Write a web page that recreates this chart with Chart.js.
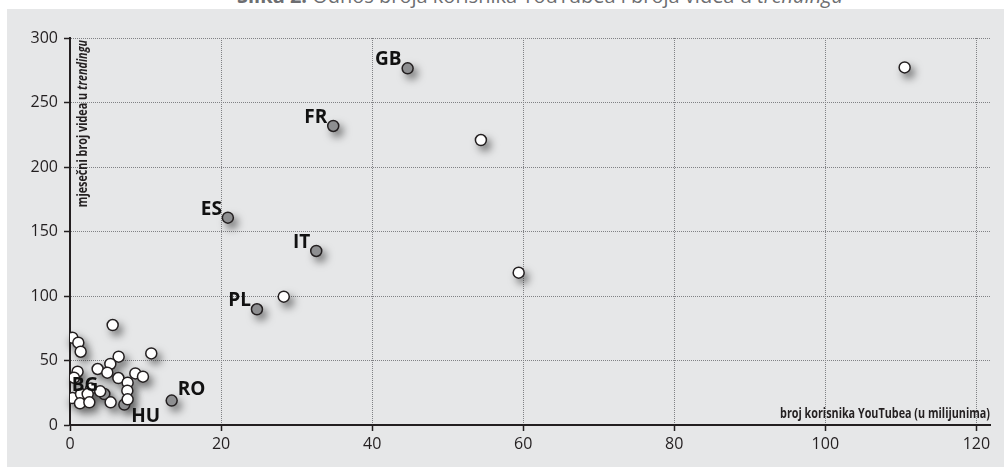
<!DOCTYPE html>
<html>
<head>
<meta charset="utf-8">
<title>Odnos broja korisnika YouTubea i broja videa u trendingu</title>
<script src="https://cdn.jsdelivr.net/npm/chart.js@4.4.1/dist/chart.umd.min.js"></script>
<style>
  html, body { margin: 0; padding: 0; background: #fff; }
  #wrap { position: relative; width: 1005px; height: 470px; overflow: hidden; }
  #panel { position: absolute; left: 7px; top: 9px; right: 1px; bottom: 3px; background: #e6e7e8; }
  #title {
    position: absolute; left: 237px; top: -14px; white-space: nowrap;
    font: 20px/20px "Open Sans", sans-serif; color: #6d6e71;
  }
  #title b { font-weight: 700; }
  canvas { position: absolute; left: 0; top: 0; }
</style>
</head>
<body>
<div id="wrap">
  <div id="panel"></div>
  <div id="title"><b>Slika 2.</b> Odnos broja korisnika YouTubea i broja videa u <i>trendingu</i></div>
  <canvas id="chart" width="1005" height="470"></canvas>
</div>
<script>
// ostale zemlje (bez oznake) - korisnici (mil.) / mjesečni broj videa
const otherX = [5.65, 0.31, 1.1, 1.41, 10.76, 6.44, 5.34, 1.0, 3.66, 4.94, 0.53, 8.65, 9.66,
                6.4, 7.63, 2.78, 7.59, 4.0, 0.31, 1.46, 2.34, 1.32, 2.56, 5.38, 7.63,
                28.3, 54.4, 59.4, 110.5];
const otherY = [77.5, 67.7, 63.8, 56.8, 55.5, 53, 47.3, 41.3, 43.4, 40.6, 36.7, 40, 37.5,
                36.4, 32.8, 28.2, 26.6, 26.1, 20.9, 24, 24, 16.8, 17.6, 17.6, 19.9,
                99.5, 220.9, 118.1, 277.2];

// označene zemlje
const countries = ['GB', 'FR', 'ES', 'IT', 'PL', 'BG', 'RO', 'HU'];
const countryX = [44.7, 34.85, 20.9, 32.6, 24.75, 4.54, 13.46, 7.19];
const countryY = [276.5, 231.8, 160.7, 134.9, 89.7, 24, 18.9, 15.8];
const labelSide = ['nw', 'nw', 'nw', 'nw', 'nw', 'nw', 'ne', 'se'];

const xTicks = [0, 20, 40, 60, 80, 100, 120];
const yTicks = [0, 50, 100, 150, 200, 250, 300];

const xTitle = 'broj korisnika YouTubea (u milijunima)';
const yTitle = ['mjesečni broj videa u ', 'trendingu'];

const INK = '#231f20';
const TITLE_FONT = '"Open Sans", sans-serif';
const CONDENSE = 0.8; // naslovi osi su u uskom rezu

const toPoints = (xs, ys) => xs.map((x, i) => ({ x: x, y: ys[i] }));

// sjena ispod točaka (crta se samo sjena, krug je izvan platna)
const shadowPlugin = {
  id: 'pointShadow',
  beforeDatasetsDraw(chart) {
    const ctx = chart.ctx;
    const OFF = 5000;
    ctx.save();
    ctx.fillStyle = '#000';
    ctx.shadowColor = 'rgba(0,0,0,0.55)';
    ctx.shadowBlur = 8;
    ctx.shadowOffsetX = OFF + 4;
    ctx.shadowOffsetY = 5;
    chart.data.datasets.forEach((ds, i) => {
      chart.getDatasetMeta(i).data.forEach(el => {
        ctx.beginPath();
        ctx.arc(el.x - OFF, el.y, 6, 0, Math.PI * 2);
        ctx.fill();
      });
    });
    ctx.restore();
  }
};

// oznake zemalja
const labelPlugin = {
  id: 'countryLabels',
  afterDatasetsDraw(chart) {
    const ctx = chart.ctx;
    const meta = chart.getDatasetMeta(1);
    ctx.save();
    ctx.font = 'bold 19px "Open Sans", sans-serif';
    ctx.fillStyle = '#111';
    ctx.textBaseline = 'alphabetic';
    meta.data.forEach((el, i) => {
      const side = labelSide[i];
      if (side === 'nw') {
        ctx.textAlign = 'right';
        ctx.fillText(countries[i], el.x - 6, el.y - 3);
      } else if (side === 'ne') {
        ctx.textAlign = 'left';
        ctx.fillText(countries[i], el.x + 6, el.y - 6);
      } else {
        ctx.textAlign = 'left';
        ctx.fillText(countries[i], el.x + 7, el.y + 17);
      }
    });
    ctx.restore();
  }
};

// naslovi osi unutar grafikona
const axisTitlePlugin = {
  id: 'axisTitles',
  afterDraw(chart) {
    const ctx = chart.ctx;
    const area = chart.chartArea;
    const boldFont = 'bold 13.5px ' + TITLE_FONT;
    const italicFont = 'italic bold 13.5px ' + TITLE_FONT;

    ctx.save();
    ctx.fillStyle = INK;
    ctx.textBaseline = 'alphabetic';
    ctx.textAlign = 'right';
    ctx.font = boldFont;
    ctx.translate(area.right, area.bottom - 7);
    ctx.scale(CONDENSE, 1);
    ctx.fillText(xTitle, 0, 0);
    ctx.restore();

    ctx.save();
    ctx.fillStyle = INK;
    ctx.textBaseline = 'alphabetic';
    ctx.textAlign = 'left';
    ctx.font = boldFont;
    const w1 = ctx.measureText(yTitle[0]).width;
    ctx.font = italicFont;
    const w2 = ctx.measureText(yTitle[1]).width;
    ctx.translate(area.left + 17, area.top + 2 + (w1 + w2) * CONDENSE);
    ctx.rotate(-Math.PI / 2);
    ctx.scale(CONDENSE, 1);
    ctx.font = boldFont;
    ctx.fillText(yTitle[0], 0, 0);
    ctx.font = italicFont;
    ctx.fillText(yTitle[1], w1, 0);
    ctx.restore();
  }
};

const gridColor = c => (c.tick && c.tick.value === 0 ? 'rgba(0,0,0,0)' : '#808184');

new Chart(document.getElementById('chart'), {
  type: 'scatter',
  data: {
    datasets: [
      {
        label: 'ostale',
        data: toPoints(otherX, otherY),
        backgroundColor: '#ffffff',
        borderColor: INK,
        borderWidth: 1.5,
        pointRadius: 5.5,
        pointHoverRadius: 5.5
      },
      {
        label: 'označene',
        data: toPoints(countryX, countryY),
        backgroundColor: '#8e8f91',
        borderColor: INK,
        borderWidth: 1.5,
        pointRadius: 5.5,
        pointHoverRadius: 5.5
      }
    ]
  },
  options: {
    responsive: false,
    animation: false,
    layout: { padding: { top: 38, right: 15, left: 0, bottom: 0 } },
    plugins: {
      legend: { display: false },
      tooltip: { enabled: false },
      title: { display: false }
    },
    scales: {
      x: {
        type: 'linear',
        min: 0,
        max: 121.8,
        afterBuildTicks: s => { s.ticks = xTicks.map(v => ({ value: v })); },
        afterFit: s => { s.height = 45; },
        grid: {
          color: gridColor,
          lineWidth: 1,
          drawTicks: true,
          tickLength: 6,
          tickColor: INK,
          tickWidth: 1.5
        },
        border: { display: true, color: INK, width: 2, dash: [1, 1] },
        ticks: {
          color: INK,
          font: { family: '"Open Sans", sans-serif', size: 16 },
          padding: 4,
          maxRotation: 0
        }
      },
      y: {
        type: 'linear',
        min: 0,
        max: 300,
        afterBuildTicks: s => { s.ticks = yTicks.map(v => ({ value: v })); },
        afterFit: s => { s.width = 70; },
        grid: {
          color: gridColor,
          lineWidth: 1,
          drawTicks: true,
          tickLength: 6,
          tickColor: INK,
          tickWidth: 1.5
        },
        border: { display: true, color: INK, width: 2, dash: [1, 1] },
        ticks: {
          color: INK,
          font: { family: '"Open Sans", sans-serif', size: 16 },
          padding: 6
        }
      }
    }
  },
  plugins: [shadowPlugin, labelPlugin, axisTitlePlugin]
});
</script>
</body>
</html>
